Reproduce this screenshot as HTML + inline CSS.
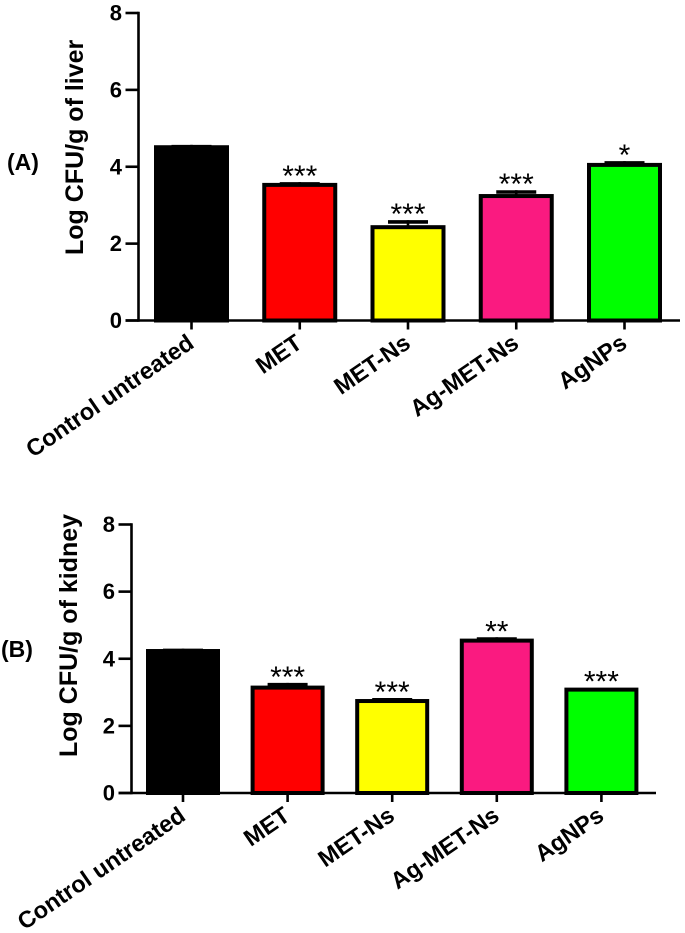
<!DOCTYPE html>
<html lang="en">
<head>
<meta charset="utf-8">
<title>Log CFU/g of liver and kidney</title>
<style>
html,body{margin:0;padding:0;background:#fff;width:685px;height:933px;overflow:hidden}
svg{display:block}
text{font-family:"Liberation Sans",Arial,sans-serif;fill:#000}
</style>
</head>
<body>
<svg id="figure" width="685" height="933" viewBox="0 0 685 933" xmlns="http://www.w3.org/2000/svg">
  <rect width="685" height="933" fill="#fff"/>
  <text x="7" y="170" font-size="23" font-weight="700">(A)</text>
  <text x="1" y="657" font-size="23" font-weight="700">(B)</text>
  <text transform="translate(83,255) rotate(-90)" font-size="25" font-weight="700">Log CFU/g of liver</text>
  <text transform="translate(77,757) rotate(-90)" font-size="25" font-weight="700">Log CFU/g of kidney</text>
  <g id="panel-a"></g>
  <g id="panel-b"></g>
</svg>
<script>
const categories = ["Control untreated", "MET", "MET-Ns", "Ag-MET-Ns", "AgNPs"];
const barColors = ["#000000", "#ff0000", "#ffff00", "#fa1a80", "#00ff00"];
const yTicks = [0, 2, 4, 6, 8];
const liverValues = [4.56, 3.58, 2.48, 3.29, 4.10];
const liverErrors = [0.01, 0.02, 0.13, 0.10, 0.045];
const liverStars = ["", "***", "***", "***", "*"];
const kidneyValues = [4.29, 3.20, 2.80, 4.60, 3.14];
const kidneyErrors = [0.01, 0.08, 0.03, 0.04, 0];
const kidneyStars = ["", "***", "***", "**", "***"];

const NS = "http://www.w3.org/2000/svg";

function make(parent, tag, attrs) {
  const el = document.createElementNS(NS, tag);
  for (const k in attrs) el.setAttribute(k, attrs[k]);
  parent.appendChild(el);
  return el;
}

function drawPanel(parent, cfg, values, errors, stars) {
  const yScale = v => cfg.y0 - (v / 8) * (cfg.y0 - cfg.y8);
  const xScale = i => cfg.firstCenter + i * cfg.step;

  const yAxis = make(parent, "line", {x1: cfg.axisX, x2: cfg.axisX, y1: cfg.y8 - 1.2, y2: cfg.y0 + 1.2, stroke: "#000", "stroke-width": 2.6});
  
  

  yTicks.forEach(t => {
    const tick = make(parent, "line", {x1: cfg.axisX - 13, x2: cfg.axisX, y1: yScale(t), y2: yScale(t), stroke: "#000", "stroke-width": 2.6});
    
    
    const label = make(parent, "text", {x: cfg.axisX - 16.5, y: yScale(t) + 7.5, "font-size": 22, "font-weight": 700, "text-anchor": "end"});
    
    
    label.textContent = t;
  });

  values.forEach((v, i) => {
    const cx = xScale(i);
    const top = yScale(v);
    const errTop = yScale(v + errors[i]);
    if (errors[i] > 0) {
      const stem = make(parent, "line", {x1: cx, x2: cx, y1: top + 4, y2: errTop, stroke: "#000", "stroke-width": 2.6});
      
      
      const cap = make(parent, "line", {x1: cx - 20, x2: cx + 20, y1: errTop + 1.8, y2: errTop + 1.8, stroke: "#000", "stroke-width": 3.6});
      
      
    }

    const bar = make(parent, "rect", {x: cx - cfg.barW / 2 + 2, y: top + 2, width: cfg.barW - 4, height: cfg.y0 - top - 2, fill: barColors[i], stroke: "#000", "stroke-width": 4});
    
    

    if (stars[i]) {
      const star = make(parent, "text", {x: cx, y: errTop + 4, "font-size": 30, "text-anchor": "middle"});
      
      
      star.textContent = stars[i];
    }

    const xTick = make(parent, "line", {x1: cx, x2: cx, y1: cfg.y0, y2: cfg.y0 + 9, stroke: "#000", "stroke-width": 2.6});
    
    

    const catLabel = make(parent, "text", {transform: "translate(" + (cx + 4) + "," + (cfg.y0 + 26) + ") rotate(-34.5)", "font-size": 23.5, "font-weight": 700, "text-anchor": "end"});
    
    
    catLabel.textContent = categories[i];
  });

  const xAxis = make(parent, "line", {x1: cfg.axisX - 13, x2: cfg.xEnd, y1: cfg.y0, y2: cfg.y0, stroke: "#000", "stroke-width": 2.6});
  
  
}

drawPanel(document.getElementById("panel-a"),
  {axisX: 138.5, y0: 320.5, y8: 13, firstCenter: 191.5, step: 108.25, barW: 75, xEnd: 680},
  liverValues, liverErrors, liverStars);
drawPanel(document.getElementById("panel-b"),
  {axisX: 131.5, y0: 793, y8: 524.5, firstCenter: 183, step: 104.6, barW: 74, xEnd: 656},
  kidneyValues, kidneyErrors, kidneyStars);
</script>
</body>
</html>
